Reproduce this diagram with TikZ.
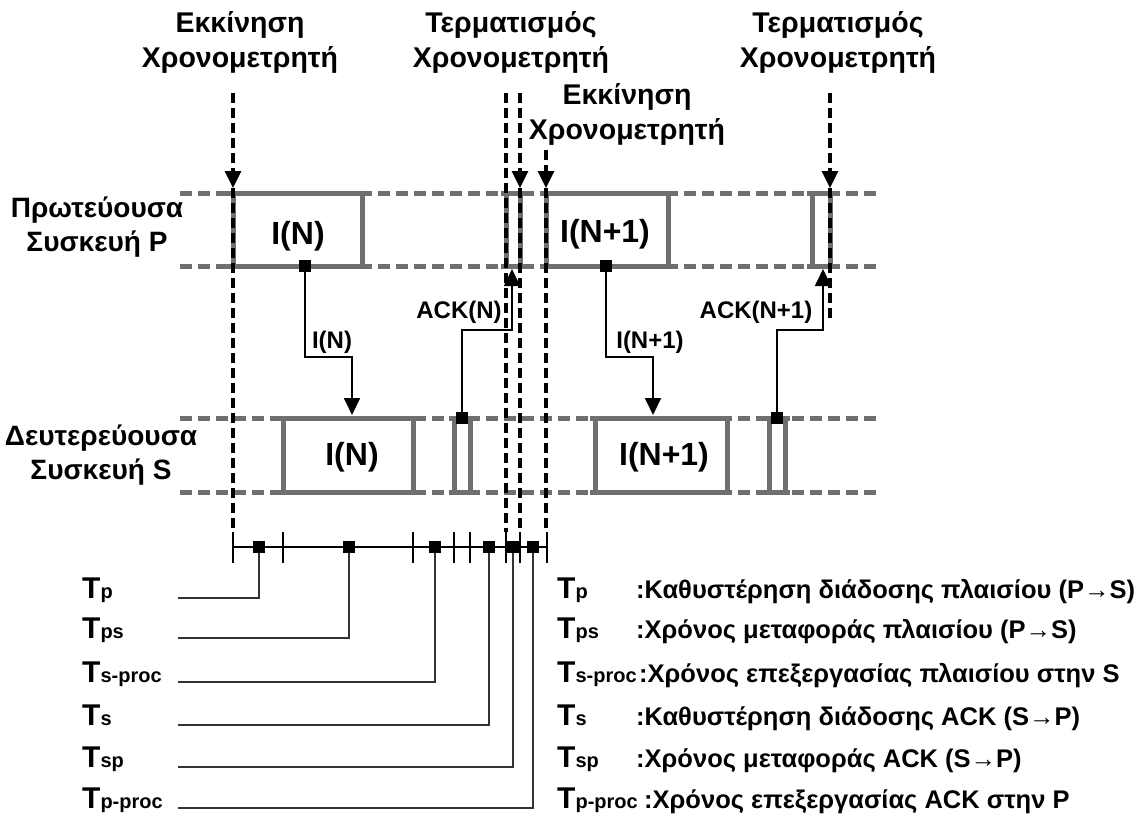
\documentclass[tikz,border=0pt]{standalone}
\usepackage{fontspec}
\setmainfont{Liberation Sans}
\usetikzlibrary{arrows.meta}
\definecolor{lanegray}{HTML}{6F6F6F}
\definecolor{leadgray}{HTML}{333333}
\newcommand\fs[1]{\fontsize{#1}{#1}\selectfont}
\newcommand\Tsym[1]{{\fs{30}T}{\fs{20}#1}}

\begin{document}
\begin{tikzpicture}[x=1pt,y=-1pt,
  lane/.style={draw=lanegray,line width=5pt,dash pattern=on 12pt off 6pt},
  frame/.style={draw=lanegray,line width=5pt},
  timer/.style={draw=black,line width=3.2pt,dash pattern=on 10pt off 5pt},
  tip/.style={-{Triangle[length=17pt,width=16pt]}},
  msg/.style={draw=black,line width=1.8pt,-{Triangle[length=17pt,width=16pt]}},
  lead/.style={draw=leadgray,line width=1.7pt},
  axis/.style={draw=black,line width=2.8pt},
  sq/.style={fill=black,minimum size=12pt,inner sep=0pt},
  hdr/.style={font=\bfseries\fontsize{28.5}{35}\selectfont,align=center,inner sep=0pt},
  dev/.style={font=\bfseries\fontsize{28}{34}\selectfont,align=center,inner sep=0pt},
  big/.style={font=\bfseries\fs{32},inner sep=0pt},
  small/.style={font=\bfseries\fs{24},inner sep=0pt},
  sym/.style={font=\bfseries,inner sep=0pt,anchor=base west},
  desc/.style={font=\bfseries\fs{25.5},inner sep=0pt,anchor=base west},
]
\useasboundingbox (0,0) rectangle (1137,815);

% timer event captions
\node[hdr] (startA) at (240,42) {Εκκίνηση\\Χρονομετρητή};
\node[hdr] (stopA) at (511,42) {Τερματισμός\\Χρονομετρητή};
\node[hdr] (startB) at (627,114) {Εκκίνηση\\Χρονομετρητή};
\node[hdr] (stopB) at (838,42) {Τερματισμός\\Χρονομετρητή};

% device captions
\node[dev] (devP) at (97,227) {Πρωτεύουσα\\Συσκευή P};
\node[dev] (devS) at (101,455) {Δευτερεύουσα\\Συσκευή S};

% device lanes
\draw[lane] (180,193) -- (876,193);
\draw[lane] (180,266) -- (876,266);
\draw[lane] (180,418) -- (876,418);
\draw[lane] (180,492) -- (876,492);

% frames on the lanes
\foreach \a/\b/\t/\u in {233/362/193/266, 506/520/193/266, 546/668/193/266, 812/830/193/266,
                         283/413/418/492, 454/470/418/492, 595/727/418/492, 769/785/418/492}
  \draw[frame] (\a-5,\t) -- (\b+5,\t) (\a-5,\u) -- (\b+5,\u) (\a,\t) -- (\a,\u) (\b,\t) -- (\b,\u);

\node[big] (pI) at (298,236) {I(N)};
\node[big] (sI) at (352,457) {I(N)};
\node[big] (pI1) at (605,234) {I(N+1)};
\node[big] (sI1) at (664,457) {I(N+1)};

% timer markers
\coordinate (tA) at (233,93);  \coordinate (hA) at (233,188); \coordinate (bA) at (233,532);
\coordinate (tB) at (506,93);  \coordinate (bB) at (506,532);
\coordinate (tC) at (520,93);  \coordinate (hC) at (520,188); \coordinate (bC) at (520,532);
\coordinate (tD) at (546,150); \coordinate (hD) at (546,188); \coordinate (bD) at (546,532);
\coordinate (tE) at (830,93);  \coordinate (hE) at (830,188); \coordinate (bE) at (830,320);
\draw[timer,tip] (tA) -- (hA); \draw[timer] (hA) -- (bA);
\draw[timer] (tB) -- (bB);
\draw[timer,tip] (tC) -- (hC); \draw[timer] (hC) -- (bC);
\draw[timer,tip] (tD) -- (hD); \draw[timer] (hD) -- (bD);
\draw[timer,tip] (tE) -- (hE); \draw[timer] (hE) -- (bE);

% frame and acknowledgement transfers
\coordinate (qN) at (305,266);  \coordinate (inN) at (352,415);
\coordinate (qN1) at (606,266); \coordinate (inN1) at (653,415);
\coordinate (qA) at (462,418);  \coordinate (inA) at (512,269);
\coordinate (qA1) at (777,418); \coordinate (inA1) at (823,269);
\draw[msg] (qN) -- ++(0,91) -| (inN);
\draw[msg] (qN1) -- ++(0,91) -| (inN1);
\draw[msg] (qA) -- ++(0,-88) -| (inA);
\draw[msg] (qA1) -- ++(0,-88) -| (inA1);
\node[sq] (sqN) at (qN) {};
\node[sq] (sqN1) at (qN1) {};
\node[sq] (sqA) at (qA) {};
\node[sq] (sqA1) at (qA1) {};

\node[small] (lN) at (332,342) {I(N)};
\node[small] (lN1) at (650,342) {I(N+1)};
\node[small] (lA) at (459,312) {ACK(N)};
\node[small] (lA1) at (756,312) {ACK(N+1)};

% time axis
\draw[axis] (233,547) -- (547,547);
\foreach \x in {233,283,413,454,470,506,520,547}
  \draw[axis] (\x,532) -- (\x,563);
\node[sq] (m1) at (259,547) {};
\node[sq] (m2) at (349,547) {};
\node[sq] (m3) at (435,547) {};
\node[sq] (m4) at (489,547) {};
\node[sq] (m5) at (513,547) {};
\node[sq] (m6) at (533,547) {};

% interval leaders
\coordinate (e1) at (178,598);
\coordinate (e2) at (178,638);
\coordinate (e3) at (178,682);
\coordinate (e4) at (178,725);
\coordinate (e5) at (178,767);
\coordinate (e6) at (178,808);
\draw[lead] (e1) -| (m1);
\draw[lead] (e2) -| (m2);
\draw[lead] (e3) -| (m3);
\draw[lead] (e4) -| (m4);
\draw[lead] (e5) -| (m5);
\draw[lead] (e6) -| (m6);

% interval symbols
\node[sym] (L1) at (82,598) {\Tsym{p}};
\node[sym] (L2) at (82,638) {\Tsym{ps}};
\node[sym] (L3) at (82,682) {\Tsym{s-proc}};
\node[sym] (L4) at (82,725) {\Tsym{s}};
\node[sym] (L5) at (82,767) {\Tsym{sp}};
\node[sym] (L6) at (82,808) {\Tsym{p-proc}};

% legend
\node[sym] (R1) at (557,598) {\Tsym{p}};
\node[sym] (R2) at (557,638) {\Tsym{ps}};
\node[sym] (R3) at (557,682) {\Tsym{s-proc}};
\node[sym] (R4) at (557,725) {\Tsym{s}};
\node[sym] (R5) at (557,767) {\Tsym{sp}};
\node[sym] (R6) at (557,808) {\Tsym{p-proc}};
\node[desc] (D1) at (636,598) {:Καθυστέρηση διάδοσης πλαισίου (P→S)};
\node[desc] (D2) at (636,638) {:Χρόνος μεταφοράς πλαισίου (P→S)};
\node[desc] (D3) at (639,682) {:Χρόνος επεξεργασίας πλαισίου στην S};
\node[desc] (D4) at (636,725) {:Καθυστέρηση διάδοσης ACK (S→P)};
\node[desc] (D5) at (636,767) {:Χρόνος μεταφοράς ACK (S→P)};
\node[desc] (D6) at (644,808) {:Χρόνος επεξεργασίας ACK στην P};
\end{tikzpicture}
\end{document}
